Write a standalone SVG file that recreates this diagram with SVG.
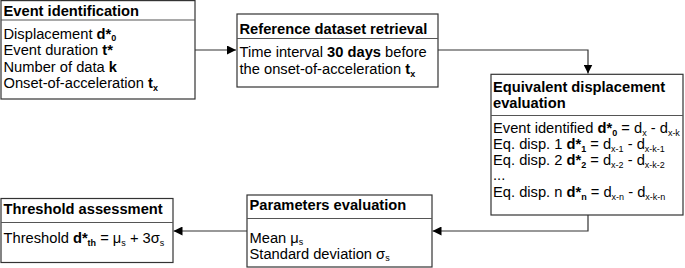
<svg xmlns="http://www.w3.org/2000/svg" width="685" height="268" viewBox="0 0 685 268">
<style>
text { font-family: "Liberation Sans", Arial, sans-serif; font-size: 14.7px; fill: #000; }
.h { font-weight: bold; }
.b { font-weight: bold; }
.s { font-size: 9px; }
.box { fill: #fff; stroke: #333; stroke-width: 1.2; }
.div { stroke: #555; stroke-width: 1.2; }
.con { fill: none; stroke: #333; stroke-width: 1.2; }
</style>
<defs>
<marker id="arr" viewBox="0 0 10 10" refX="10" refY="5" markerWidth="9" markerHeight="9" markerUnits="userSpaceOnUse" orient="auto">
<path d="M0,0 L10,5 L0,10 z" fill="#000"/>
</marker>
</defs>
<rect width="685" height="268" fill="#fff"/>
<g id="connectors">
<path class="con" d="M195,50 H236" marker-end="url(#arr)"/>
<path class="con" d="M438,50 H588 V73.5" marker-end="url(#arr)"/>
<path class="con" d="M588,215 V231 H432.5" marker-end="url(#arr)"/>
<path class="con" d="M247,231 H173.5" marker-end="url(#arr)"/>
</g>
<g id="event-identification">
<rect class="box" x="1" y="0.6" width="194" height="98.4"/>
<line class="div" x1="1" y1="20" x2="195" y2="20"/>
<text class="h" x="3.5" y="15.5">Event identification</text>
<text x="3.5" y="38.5">Displacement <tspan class="b">d*<tspan class="s" dy="2.5">0</tspan></tspan></text>
<text x="3.5" y="55">Event duration <tspan class="b">t*</tspan></text>
<text x="3.5" y="71.5">Number of data <tspan class="b">k</tspan></text>
<text x="3.5" y="88">Onset-of-acceleration <tspan class="b">t<tspan class="s" dy="2.5">x</tspan></tspan></text>
</g>
<g id="reference-dataset">
<rect class="box" x="237" y="14" width="201" height="73"/>
<line class="div" x1="237" y1="38.5" x2="438" y2="38.5"/>
<text class="h" x="239.5" y="33.5">Reference dataset retrieval</text>
<text x="239.5" y="57">Time interval <tspan class="b">30 days</tspan> before</text>
<text x="239.5" y="74">the onset-of-acceleration <tspan class="b">t<tspan class="s" dy="2.5">x</tspan></tspan></text>
</g>
<g id="equivalent-displacement">
<rect class="box" x="491" y="74.3" width="192" height="140.7"/>
<line class="div" x1="491" y1="115.5" x2="683" y2="115.5"/>
<text class="h" x="493" y="92">Equivalent displacement</text>
<text class="h" x="493" y="107.5">evaluation</text>
<text x="493" y="133">Event identified <tspan class="b">d*<tspan class="s" dy="2.5">0</tspan></tspan><tspan dy="-2.5"> = d</tspan><tspan class="s" dy="2.5">x</tspan><tspan dy="-2.5"> - d</tspan><tspan class="s" dy="2.5">x-k</tspan></text>
<text x="493" y="149">Eq. disp. 1 <tspan class="b">d*<tspan class="s" dy="2.5">1</tspan></tspan><tspan dy="-2.5"> = d</tspan><tspan class="s" dy="2.5">x-1</tspan><tspan dy="-2.5"> - d</tspan><tspan class="s" dy="2.5">x-k-1</tspan></text>
<text x="493" y="165">Eq. disp. 2 <tspan class="b">d*<tspan class="s" dy="2.5">2</tspan></tspan><tspan dy="-2.5"> = d</tspan><tspan class="s" dy="2.5">x-2</tspan><tspan dy="-2.5"> - d</tspan><tspan class="s" dy="2.5">x-k-2</tspan></text>
<text x="493" y="180">...</text>
<text x="493" y="197">Eq. disp. n <tspan class="b">d*<tspan class="s" dy="2.5">n</tspan></tspan><tspan dy="-2.5"> = d</tspan><tspan class="s" dy="2.5">x-n</tspan><tspan dy="-2.5"> - d</tspan><tspan class="s" dy="2.5">x-k-n</tspan></text>
</g>
<g id="parameters-evaluation">
<rect class="box" x="247" y="195" width="185" height="72"/>
<line class="div" x1="247" y1="218.5" x2="432" y2="218.5"/>
<text class="h" x="249.5" y="210">Parameters evaluation</text>
<text x="249.5" y="242.5">Mean μ<tspan class="s" dy="2.5">s</tspan></text>
<text x="249.5" y="258.5">Standard deviation σ<tspan class="s" dy="2.5">s</tspan></text>
</g>
<g id="threshold-assessment">
<rect class="box" x="1" y="198.5" width="172" height="64"/>
<line class="div" x1="1" y1="222.5" x2="173" y2="222.5"/>
<text class="h" x="3.5" y="214">Threshold assessment</text>
<text x="3.5" y="243">Threshold <tspan class="b">d*<tspan class="s" dy="2.5">th</tspan></tspan><tspan dy="-2.5"> = μ</tspan><tspan class="s" dy="2.5">s</tspan><tspan dy="-2.5"> + 3σ</tspan><tspan class="s" dy="2.5">s</tspan></text>
</g>
</svg>
